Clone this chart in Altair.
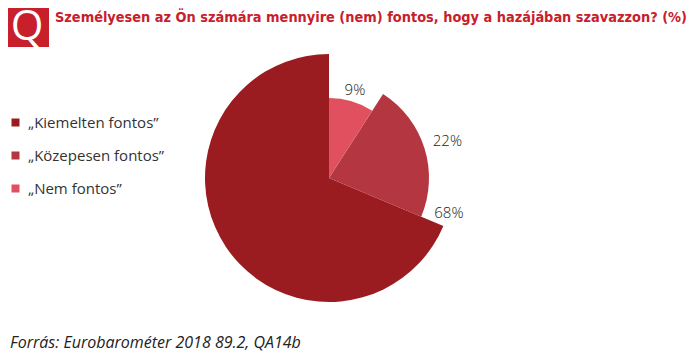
import altair as alt
import pandas as pd

categories = ["„Kiemelten fontos”", "„Közepesen fontos”", "„Nem fontos”"]
values = [68, 22, 9]
labels = ["68%", "22%", "9%"]
colors = ["#9B1C20", "#B43641", "#E0505E"]
# clockwise drawing order from 12 o'clock
draw_order = [3, 2, 1]

title_text = "Személyesen az Ön számára mennyire (nem) fontos, hogy a hazájában szavazzon? (%)"
source_text = "Forrás: Eurobarométer 2018 89.2, QA14b"

df = pd.DataFrame({"cat": categories, "value": values, "label": labels, "ord": draw_order})

CX, CY = 321, 170

base = (
    alt.Chart(df)
    .transform_window(cum="sum(value)", sort=[alt.SortField("ord")], frame=[None, 0])
    .transform_joinaggregate(total="sum(value)")
    .transform_calculate(
        start="(datum.cum - datum.value) / datum.total * 2 * PI",
        end="datum.cum / datum.total * 2 * PI",
        r="datum.ord == 1 ? 80 : (datum.ord == 2 ? 100 : 124)",
    )
    .transform_calculate(
        lt="datum.ord == 3 ? datum.start - 0.11 : (datum.start + datum.end) / 2",
        lr="datum.ord == 1 ? 92 : (datum.ord == 2 ? 124 : 125)",
    )
)

arcs = base.mark_arc(stroke=None).encode(
    theta=alt.Theta("start:Q", scale=None),
    theta2="end:Q",
    radius=alt.Radius("r:Q", scale=None),
    color=alt.Color(
        "cat:N",
        scale=alt.Scale(domain=categories, range=colors),
        sort=categories,
        legend=alt.Legend(
            title=None,
            orient="none",
            legendX=0,
            legendY=107,
            symbolType="square",
            symbolSize=64,
            symbolStrokeWidth=0,
            labelFont="Open Sans",
            labelFontSize=15,
            labelColor="#333333",
            rowPadding=17,
            labelOffset=5,
        ),
    ),
    x=alt.value(CX),
    y=alt.value(CY),
)

lab = base.mark_text(font="Open Sans", fontSize=15, color="#222222", fontWeight=300).encode(
    theta=alt.Theta("lt:Q", scale=None),
    radius=alt.Radius("lr:Q", scale=None),
    text="label:N",
    x=alt.value(CX),
    y=alt.value(CY),
)

qbox = alt.Chart(pd.DataFrame({"q": ["Q"]})).mark_rect(color="#C8202A").encode(
    x=alt.value(-3), x2=alt.value(41), y=alt.value(-3), y2=alt.value(39)
)
qtext = alt.Chart(pd.DataFrame({"q": ["Q"]})).mark_text(
    color="white", font="Open Sans", fontSize=42, align="center", baseline="middle"
).encode(text="q:N", x=alt.value(19), y=alt.value(19))

title = alt.Chart(pd.DataFrame({"t": [title_text]})).mark_text(
    color="#C8202A", font="DejaVu Sans Condensed", fontSize=14.4, fontWeight="bold",
    align="left", baseline="middle"
).encode(text="t:N", x=alt.value(47), y=alt.value(10))

source = alt.Chart(pd.DataFrame({"t": [source_text]})).mark_text(
    color="#222222", font="Open Sans", fontSize=16, fontStyle="italic",
    align="left", baseline="middle"
).encode(text="t:N", x=alt.value(2), y=alt.value(335))

chart = (
    alt.layer(arcs, lab, qbox, qtext, title, source)
    .properties(width=683, height=348, autosize=alt.AutoSizeParams(type="none"), padding=0)
    .configure_view(stroke=None)
)

chart.save("out.html", embed_options={"renderer": "svg", "actions": False})
